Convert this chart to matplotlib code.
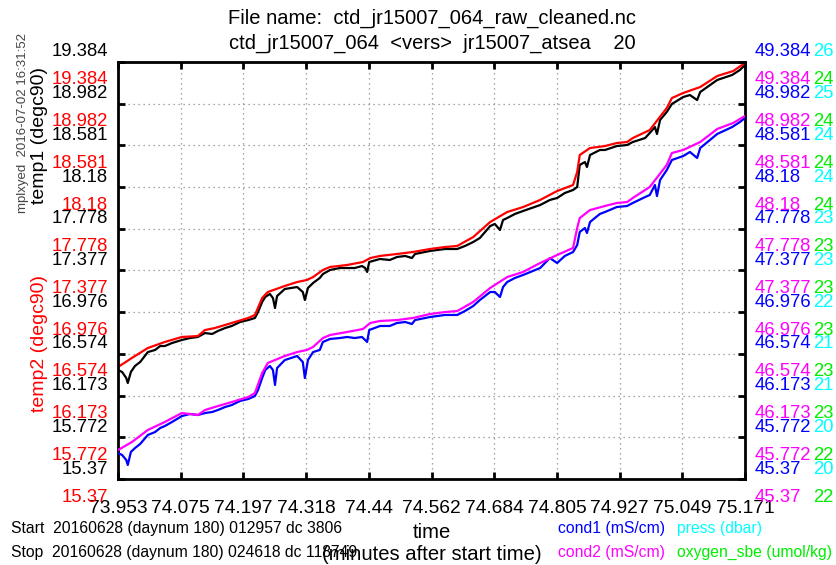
import numpy as np
import matplotlib.pyplot as plt
from matplotlib.transforms import blended_transform_factory

plt.rcParams['font.family'] = ['Liberation Sans', 'DejaVu Sans']

# raw sensor 1 (time in minutes after start)
t_raw = [73.953, 73.961, 73.969, 73.972, 73.978, 73.986, 73.996, 74.011, 74.025, 74.035,
         74.044, 74.058, 74.077, 74.093, 74.108, 74.122, 74.136, 74.147, 74.161, 74.174,
         74.190, 74.206, 74.219, 74.225, 74.233, 74.239, 74.248, 74.254, 74.258, 74.262,
         74.277, 74.301, 74.312, 74.316, 74.322, 74.332, 74.345, 74.351, 74.365, 74.384,
         74.398, 74.413, 74.427, 74.433, 74.437, 74.441, 74.462, 74.481, 74.495, 74.511,
         74.524, 74.530, 74.559, 74.588, 74.612, 74.627, 74.643, 74.656, 74.676, 74.685,
         74.695, 74.701, 74.709, 74.724, 74.740, 74.773, 74.792, 74.806, 74.821, 74.837,
         74.845, 74.850, 74.860, 74.864, 74.870, 74.889, 74.899, 74.922, 74.942, 74.953,
         74.977, 74.986, 74.996, 75.000, 75.006, 75.019, 75.029, 75.051, 75.064, 75.078,
         75.084, 75.117, 75.146, 75.161, 75.171]
temp1 = [16.419, 16.400, 16.342, 16.294, 16.400, 16.458, 16.496, 16.592, 16.612, 16.650,
         16.650, 16.679, 16.708, 16.727, 16.737, 16.775, 16.766, 16.795, 16.823, 16.843,
         16.881, 16.900, 16.920, 16.977, 17.074, 17.122, 17.151, 17.112, 17.016, 17.131,
         17.199, 17.218, 17.170, 17.093, 17.209, 17.257, 17.305, 17.343, 17.382, 17.401,
         17.401, 17.401, 17.420, 17.401, 17.363, 17.459, 17.488, 17.478, 17.507, 17.517,
         17.497, 17.536, 17.565, 17.584, 17.584, 17.613, 17.651, 17.690, 17.805, 17.825,
         17.767, 17.863, 17.882, 17.921, 17.950, 18.007, 18.056, 18.075, 18.123, 18.152,
         18.181, 18.393, 18.421, 18.373, 18.489, 18.537, 18.537, 18.575, 18.585, 18.614,
         18.652, 18.701, 18.758, 18.691, 18.826, 18.903, 18.980, 19.047, 19.066, 19.018,
         19.095, 19.211, 19.259, 19.307, 19.355]
cond1 = [45.620, 45.601, 45.553, 45.505, 45.630, 45.668, 45.707, 45.794, 45.822, 45.861,
         45.880, 45.919, 45.976, 45.996, 45.986, 46.005, 46.015, 46.034, 46.063, 46.082,
         46.121, 46.140, 46.169, 46.227, 46.342, 46.419, 46.458, 46.419, 46.275, 46.438,
         46.515, 46.554, 46.496, 46.342, 46.515, 46.592, 46.612, 46.689, 46.718, 46.727,
         46.737, 46.727, 46.737, 46.708, 46.689, 46.804, 46.843, 46.843, 46.872, 46.881,
         46.862, 46.900, 46.929, 46.949, 46.949, 46.987, 47.035, 47.093, 47.170, 47.170,
         47.122, 47.218, 47.266, 47.305, 47.334, 47.401, 47.497, 47.449, 47.517, 47.555,
         47.622, 47.748, 47.786, 47.738, 47.844, 47.921, 47.940, 47.988, 47.998, 48.027,
         48.084, 48.104, 48.200, 48.094, 48.248, 48.344, 48.441, 48.479, 48.518, 48.460,
         48.556, 48.691, 48.758, 48.806, 48.845]

# sensor 2
t_two = [73.953, 73.980, 74.011, 74.044, 74.077, 74.108, 74.122, 74.141, 74.174, 74.206,
         74.219, 74.233, 74.244, 74.277, 74.301, 74.320, 74.332, 74.351, 74.365, 74.398,
         74.429, 74.443, 74.462, 74.495, 74.526, 74.559, 74.588, 74.612, 74.643, 74.676,
         74.709, 74.740, 74.773, 74.806, 74.837, 74.845, 74.850, 74.870, 74.899, 74.922,
         74.942, 74.953, 74.986, 75.019, 75.029, 75.051, 75.084, 75.117, 75.148, 75.171]
temp2 = [16.448, 16.535, 16.631, 16.689, 16.737, 16.746, 16.804, 16.823, 16.872, 16.920,
         16.949, 17.112, 17.170, 17.228, 17.266, 17.286, 17.314, 17.382, 17.411, 17.430,
         17.459, 17.497, 17.517, 17.536, 17.555, 17.584, 17.603, 17.613, 17.699, 17.844,
         17.940, 17.988, 18.056, 18.142, 18.200, 18.325, 18.489, 18.556, 18.575, 18.604,
         18.614, 18.652, 18.729, 18.941, 19.037, 19.086, 19.143, 19.249, 19.297, 19.374]
cond2 = [45.649, 45.726, 45.842, 45.919, 46.005, 45.986, 46.034, 46.063, 46.111, 46.159,
         46.198, 46.390, 46.487, 46.554, 46.592, 46.612, 46.641, 46.727, 46.756, 46.785,
         46.814, 46.872, 46.891, 46.900, 46.920, 46.958, 46.977, 46.987, 47.074, 47.209,
         47.314, 47.363, 47.449, 47.526, 47.594, 47.786, 47.882, 47.959, 47.998, 48.027,
         48.036, 48.075, 48.181, 48.393, 48.508, 48.537, 48.614, 48.739, 48.797, 48.864]

# axis labels (bottom to top)
temp_labels = ['15.37', '15.772', '16.173', '16.574', '16.976', '17.377',
               '17.778', '18.18', '18.581', '18.982', '19.384']
cond_labels = ['45.37', '45.772', '46.173', '46.574', '46.976', '47.377',
               '47.778', '48.18', '48.581', '48.982', '49.384']
press_labels = ['20', '20', '21', '21', '22', '23', '23', '24', '24', '25', '26']
oxy_labels = ['22', '22', '23', '23', '23', '23', '23', '24', '24', '24', '24']
time_labels = ['73.953', '74.075', '74.197', '74.318', '74.44', '74.562',
               '74.684', '74.805', '74.927', '75.049', '75.171']

tmin, tmax = 73.953, 75.171
ylo, yhi = 15.37, 19.384
clo, chi = 45.37, 49.384
green = '#00ee00'
fs = 13.3

fig = plt.figure(figsize=(8.37, 5.65), dpi=100)
ax = fig.add_axes([118/837, 1-479/565, 627/837, 417/565])
ax2 = ax.twinx()

ax.plot(t_raw, temp1, color='black', lw=1.6)
ax.plot(t_two, temp2, color='red', lw=1.6)
ax2.plot(t_raw, cond1, color='blue', lw=1.6)
ax2.plot(t_two, cond2, color='magenta', lw=1.6)

ax.set_xlim(tmin, tmax)
ax.set_ylim(ylo, yhi)
ax2.set_ylim(clo, chi)
ax2.set_yticks([])

xt = np.linspace(tmin, tmax, 11)
yt = np.linspace(ylo, yhi, 11)
ax.set_xticks(xt)
ax.set_xticklabels(time_labels, fontsize=13.8)
ax.set_yticks(yt)
ax.tick_params(axis='both', direction='in', length=5, width=2,
               top=True, right=True, labelleft=False, pad=15)
ax.grid(True, linestyle=(0, (1, 3)), color='#8a8a8a', lw=0.9)
for s in ax.spines.values():
    s.set_linewidth(2)
for s in ax2.spines.values():
    s.set_visible(False)

# stacked tick labels on both sides
tr = blended_transform_factory(ax.transAxes, ax.transData)
for i, v in enumerate(yt):
    ax.annotate(temp_labels[i], (0, v), xycoords=tr, xytext=(-10, 10),
                textcoords='offset pixels', ha='right', va='center',
                fontsize=fs, color='black', annotation_clip=False)
    ax.annotate(temp_labels[i], (0, v), xycoords=tr, xytext=(-10, -18),
                textcoords='offset pixels', ha='right', va='center',
                fontsize=fs, color='red', annotation_clip=False)
    ax.annotate(cond_labels[i], (1, v), xycoords=tr, xytext=(10, 10),
                textcoords='offset pixels', ha='left', va='center',
                fontsize=fs, color='blue', annotation_clip=False)
    ax.annotate(press_labels[i], (1, v), xycoords=tr, xytext=(68, 10),
                textcoords='offset pixels', ha='left', va='center',
                fontsize=fs, color='cyan', annotation_clip=False)
    ax.annotate(cond_labels[i], (1, v), xycoords=tr, xytext=(10, -18),
                textcoords='offset pixels', ha='left', va='center',
                fontsize=fs, color='magenta', annotation_clip=False)
    ax.annotate(oxy_labels[i], (1, v), xycoords=tr, xytext=(68, -18),
                textcoords='offset pixels', ha='left', va='center',
                fontsize=fs, color=green, annotation_clip=False)

W, H = 837, 565
fig.text(432/W, 1-18/H, 'File name:  ctd_jr15007_064_raw_cleaned.nc',
         ha='center', va='center', fontsize=14.5)
fig.text(432/W, 1-43/H, 'ctd_jr15007_064  <vers>  jr15007_atsea    20',
         ha='center', va='center', fontsize=14.5)

fig.text(40/W, 1-136/H, 'temp1 (degc90)', rotation=90, ha='center', va='center',
         fontsize=14, color='black')
fig.text(40/W, 1-344/H, 'temp2 (degc90)', rotation=90, ha='center', va='center',
         fontsize=14, color='red')
fig.text(23/W, 1-123/H, 'mplxyed  2016-07-02 16:31:52', rotation=90, ha='center',
         va='center', fontsize=9.5, color='#444444')

fig.text(432/W, 1-532/H, 'time', ha='center', va='center', fontsize=14.6)
fig.text(432/W, 1-555/H, '(minutes after start time)', ha='center', va='center',
         fontsize=14.6)

fig.text(11/W, 1-528/H, 'Start  20160628 (daynum 180) 012957 dc 3806',
         ha='left', va='center', fontsize=11.3)
fig.text(11/W, 1-552/H, 'Stop  20160628 (daynum 180) 024618 dc 118749',
         ha='left', va='center', fontsize=11.3)

fig.text(558/W, 1-528/H, 'cond1 (mS/cm)', ha='left', va='center', fontsize=11.3,
         color='blue')
fig.text(677/W, 1-528/H, 'press (dbar)', ha='left', va='center', fontsize=11.3,
         color='cyan')
fig.text(558/W, 1-552/H, 'cond2 (mS/cm)', ha='left', va='center', fontsize=11.3,
         color='magenta')
fig.text(677/W, 1-552/H, 'oxygen_sbe (umol/kg)', ha='left', va='center', fontsize=11.3,
         color=green)

fig.savefig('out.png', dpi=100)
